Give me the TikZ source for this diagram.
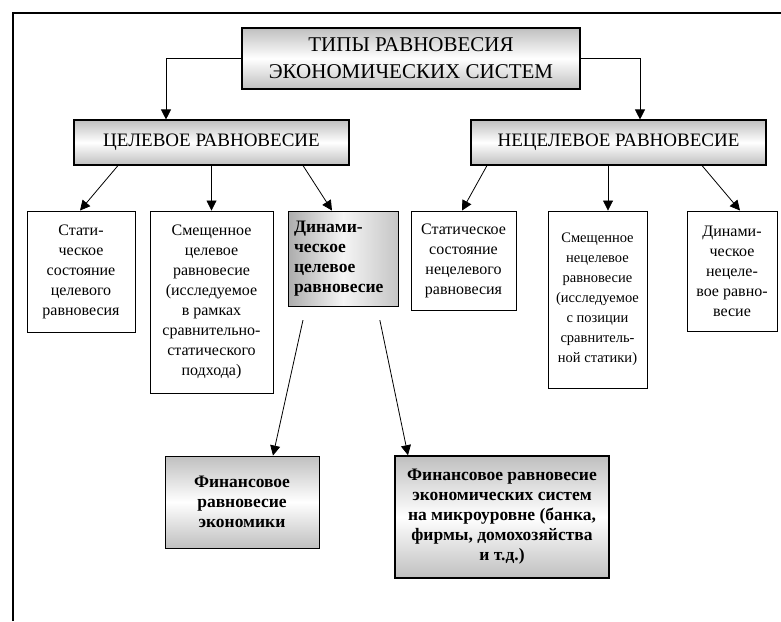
\documentclass[tikz,border=0pt]{standalone}
\usepackage{fontspec}
\setmainfont{Liberation Serif}
\usepackage{tikz}
\usetikzlibrary{positioning}
\usetikzlibrary{arrows.meta}

\begin{document}
\begin{tikzpicture}[x=1pt,y=-1pt]
			\tikzstyle{Plain} = [draw, line width=0.9pt, align=center, inner sep=1pt,
				font=\fontsize{16}{20}\selectfont]
			\tikzstyle{Shaded} = [Plain, top color=gray!50, bottom color=gray!50, middle color=white]
			\tikzstyle{Bold} = [font=\fontsize{17.5}{20}\selectfont\bfseries]
			\tikzstyle{Head} = [Shaded, line width=1.1pt, font=\fontsize{19}{22}\selectfont]
			\tikzstyle{EdgeStyle} = [-{Triangle[length=10pt,width=10pt]}, line width=0.8pt]
			\useasboundingbox (0,0) rectangle (781,621);
			\draw[line width=1.1pt] (13,621) -- (13,13) -- (781,13);
			% levels
			\node[Head, line width=1.4pt, minimum width=338pt, minimum height=61pt,
				font=\fontsize{21}{27}\selectfont] (types) at (411,58.5)
				{ТИПЫ РАВНОВЕСИЯ\\ЭКОНОМИЧЕСКИХ СИСТЕМ};
			\node[Head, minimum width=275pt, minimum height=45pt] (target) at (211.5,142.5)
				{ЦЕЛЕВОЕ РАВНОВЕСИЕ};
			\node[Head, minimum width=295pt, minimum height=45pt] (nontarget) at (618.5,142.5)
				{НЕЦЕЛЕВОЕ РАВНОВЕСИЕ};
			% target kinds
			\node[Plain, minimum width=108pt, minimum height=121pt] (tstatic) at (81,271.5)
				{Стати-\\ческое\\состояние\\целевого\\равновесия};
			\node[Plain, minimum width=123pt, minimum height=182pt] (tshift) at (211.5,302)
				{Смещенное\\целевое\\равновесие\\(исследуемое\\в рамках\\сравнительно-\\статического\\подхода)};
			\node[Plain, Bold, left color=gray!65, right color=gray!45, middle color=gray!8,
				minimum width=110pt, minimum height=95pt, text width=98pt, align=left] (tdyn) at (343,258.5)
				{Динами-\\ческое\\целевое\\равновесие};
			% non-target kinds
			\node[Plain, minimum width=105pt, minimum height=99pt] (nstatic) at (463.5,260.5)
				{Статическое\\состояние\\нецелевого\\равновесия};
			\node[Plain, minimum width=99pt, minimum height=177pt,
				font=\fontsize{14.5}{20}\selectfont] (nshift) at (597.5,299.5)
				{Смещенное\\нецелевое\\равновесие\\(исследуемое\\с позиции\\сравнитель-\\ной статики)};
			\node[Plain, minimum width=90pt, minimum height=120pt] (ndyn) at (732,271)
				{Динами-\\ческое\\нецеле-\\вое равно-\\весие};
			% financial
			\node[Shaded, Bold, minimum width=154pt, minimum height=92pt] (fecon) at (242,502)
				{Финансовое\\равновесие\\экономики};
			\node[Shaded, Bold, line width=1.6pt, minimum width=214pt, minimum height=122pt] (fmicro) at (502,517)
				{Финансовое равновесие\\экономических систем\\на микроуровне (банка,\\фирмы, домохозяйства\\и т.д.)};
			% connectors
			\draw[EdgeStyle] (types.west) -| ([xshift=-45.5pt]target.north);
			\draw[EdgeStyle] (types.east) -| ([xshift=21.5pt]nontarget.north);
			\draw[EdgeStyle] ([xshift=-93.5pt]target.south) -- ([xshift=-1pt]tstatic.north);
			\draw[EdgeStyle] (target.south) -- (tshift.north);
			\draw[EdgeStyle] ([xshift=91.5pt]target.south) -- ([xshift=-11pt]tdyn.north);
			\draw[EdgeStyle] ([xshift=-131.5pt]nontarget.south) -- ([xshift=-1.5pt]nstatic.north);
			\draw[EdgeStyle] ([xshift=-10.5pt]nontarget.south) -- ([xshift=10.5pt]nshift.north);
			\draw[EdgeStyle] ([xshift=83.5pt]nontarget.south) -- ([xshift=8pt]ndyn.north);
			\draw[EdgeStyle, shorten <=14pt] ([xshift=-37pt]tdyn.south) -- ([xshift=31pt]fecon.north);
			\draw[EdgeStyle, shorten <=14pt] ([xshift=34pt]tdyn.south) -- ([xshift=-94pt]fmicro.north);
		\end{tikzpicture}
\end{document}
